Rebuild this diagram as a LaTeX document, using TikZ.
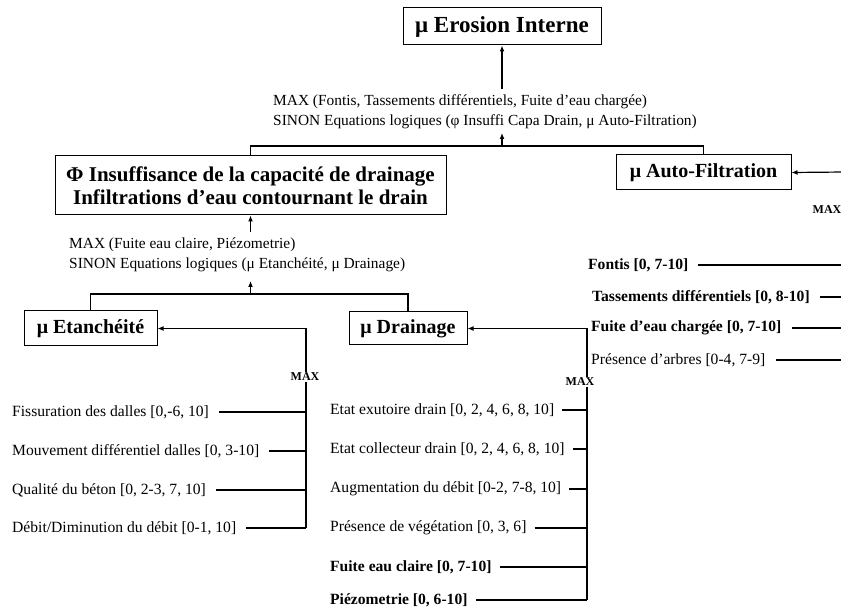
\documentclass[tikz,border=0pt]{standalone}
\usepackage{fontspec}
\setmainfont{Liberation Serif}
\usetikzlibrary{arrows.meta}
\begin{document}
\begin{tikzpicture}[x=1pt,y=-1pt,
  box/.style={draw, line width=1pt, font=\bfseries\fontsize{20}{23}\selectfont, inner sep=0pt, align=center},
  lbl/.style={font=\fontsize{15.6}{18}\selectfont, anchor=west, inner sep=2pt},
  blbl/.style={font=\bfseries\fontsize{15.6}{18}\selectfont, anchor=west, inner sep=2pt},
  maxl/.style={font=\bfseries\fontsize{12}{14}\selectfont, inner sep=1pt},
  eq/.style={font=\fontsize{15.4}{20}\selectfont, align=left, anchor=west, inner sep=0pt},
  conn/.style={line width=1.2pt},
  arr/.style={conn, -{Latex[length=6pt,width=5pt]}},
]
\useasboundingbox (0,0) rectangle (841,612);
\fill[white] (0,0) rectangle (841,612);

% top
\node[box, minimum width=198pt, minimum height=37pt, font=\bfseries\fontsize{23}{26}\selectfont] (ero) at (502,26.5) {μ Erosion Interne};
\node[eq] (eq1) at (273,112) {MAX (Fontis, Tassements différentiels, Fuite d’eau chargée)\\SINON Equations logiques (φ Insuffi Capa Drain, μ Auto-Filtration)};
\coordinate (a1) at (502,89);
\draw[arr] (a1) -- (ero.south);

\node[box, minimum width=391pt, minimum height=59pt, font=\bfseries\fontsize{21}{23}\selectfont] (phi) at (250.5,185.5) {Φ Insuffisance de la capacité de drainage\\Infiltrations d’eau contournant le drain};
\node[box, minimum width=175pt, minimum height=35pt] (auto) at (703.5,172.5) {μ Auto-Filtration};
\coordinate (j1) at (502,146);
\coordinate (j1t) at (502,133);
\draw[conn] (phi.north) |- (j1) -| (auto.north);
\draw[arr] (j1) -- (j1t);

\coordinate (rin) at (845,172);
\draw[arr] (rin) -- (auto.east);
\node[maxl] (max0) at (827,210) {MAX};

% second level
\node[eq] (eq2) at (69,254.5) {MAX (Fuite eau claire, Piézometrie)\\SINON Equations logiques (μ Etanchéité, μ Drainage)};
\coordinate (a2) at (250.5,232);
\draw[arr] (a2) -- (phi.south);

\node[box, minimum width=133pt, minimum height=35pt] (eta) at (90.5,328.5) {μ Etanchéité};
\node[box, minimum width=118pt, minimum height=33pt] (dra) at (408,328.5) {μ Drainage};
\coordinate (j2) at (250.5,294);
\coordinate (j2t) at (250.5,281);
\draw[conn] (eta.north) |- (j2) -| (dra.north);
\draw[arr] (j2) -- (j2t);

% Etancheite bracket
\coordinate (b1) at (306,328.5);
\draw[arr] (b1) -- (eta.east);
\node[maxl] (max1) at (305,377) {MAX};
\draw[conn] (b1) -- (max1.north -| b1);
\node[lbl] (e1) at (10,412) {Fissuration des dalles [0,-6, 10]};
\node[lbl] (e2) at (10,451) {Mouvement différentiel dalles [0, 3-10]};
\node[lbl] (e3) at (10,490) {Qualité du béton [0, 2-3, 7, 10]};
\node[lbl] (e4) at (10,528) {Débit/Diminution du débit [0-1, 10]};
\draw[conn] (max1.south -| b1) -- (e4.east -| b1);
\foreach \n in {e1,e2,e3,e4}{
  \draw[conn] ([xshift=8pt]\n.east) -- (\n.east -| b1);
}

% Drainage bracket
\coordinate (b2) at (587,328.5);
\draw[arr] (b2) -- (dra.east);
\node[maxl] (max2) at (580,382) {MAX};
\draw[conn] (b2) -- (max2.north -| b2);
\node[lbl] (d1) at (328,410) {Etat exutoire drain [0, 2, 4, 6, 8, 10]};
\node[lbl] (d2) at (328,449) {Etat collecteur drain [0, 2, 4, 6, 8, 10]};
\node[lbl] (d3) at (328,489) {Augmentation du débit [0-2, 7-8, 10]};
\node[lbl] (d4) at (328,528) {Présence de végétation [0, 3, 6]};
\node[blbl] (d5) at (328,567) {Fuite eau claire [0, 7-10]};
\node[blbl] (d6) at (328,600) {Piézometrie [0, 6-10]};
\draw[conn] (max2.south -| b2) -- (d6.east -| b2);
\foreach \n in {d1,d2,d3,d4,d5,d6}{
  \draw[conn] ([xshift=6pt]\n.east) -- (\n.east -| b2);
}

% Auto-filtration inputs (bracket off the page)
\coordinate (b3) at (846,0);
\node[blbl] (r1) at (586,265) {Fontis [0, 7-10]};
\node[blbl] (r2) at (590,297) {Tassements différentiels [0, 8-10]};
\node[blbl] (r3) at (589,328) {Fuite d’eau chargée [0, 7-10]};
\node[lbl] (r4) at (589,360) {Présence d’arbres [0-4, 7-9]};
\foreach \n in {r1,r2,r3,r4}{
  \draw[conn] ([xshift=8pt]\n.east) -- (\n.east -| b3);
}
\end{tikzpicture}
\end{document}
